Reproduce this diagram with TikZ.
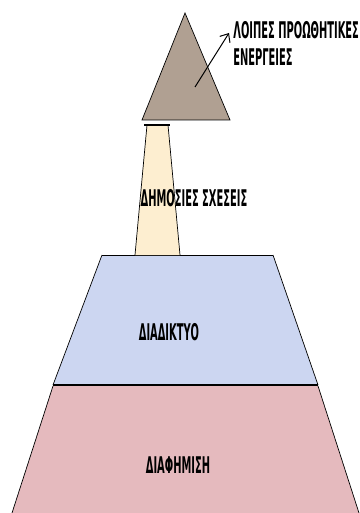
\documentclass[tikz,border=0pt]{standalone}
\usepackage{fontspec}
\newfontfamily\lblfont[FakeStretch=0.43]{DejaVu Sans}
\usetikzlibrary{arrows.meta}
\begin{document}
\begin{tikzpicture}[x=1pt,y=-1pt,line width=.7pt,font=\lblfont\bfseries\fontsize{23}{25}\selectfont]
\definecolor{stone}{RGB}{176,160,146}\definecolor{peach}{RGB}{253,238,208}
\definecolor{lilac}{RGB}{204,214,241}\definecolor{rose}{RGB}{229,186,190}
\tikzset{lbl/.style={inner sep=0pt}}
\useasboundingbox (0,0) rectangle (359,513);
% layers, bottom to top
\fill[rose] (53,386)--(318,386)--(359,513)--(12,513)--cycle;
\draw (53,386)--(12,513);\draw (318,386)--(359,513);
\fill[lilac] (102,255)--(273,255)--(318,385)--(53,385)--cycle;
\draw (102,255)--(53,385);\draw (273,255)--(318,385);\draw (102,255)--(273,255);
\draw[line width=2pt] (53,385)--(318,385);
\fill[peach] (147,125)--(168,125)--(180,255)--(135,255)--cycle;
\draw (147,125)--(135,255);\draw (168,125)--(180,255);\draw[line width=1.4pt] (144,125)--(170,125);
\fill[stone] (185,13)--(230,120)--(142,120)--cycle;
\draw (185,13)--(230,120)--(142,120)--cycle;
% labels
\coordinate (tail) at (195,87);\coordinate (head) at (229,33);
\draw[-{Straight Barb[length=7pt,width=12pt]},line width=1pt] (tail)--(head);
\node[lbl,anchor=west] (l1) at (233,30) {ΛΟΙΠΕΣ ΠΡΟΩΘΗΤΙΚΕΣ};
\node[lbl,anchor=west] (l2) at (233,57) {ΕΝΕΡΓΕΙΕΣ};
\node[lbl] (pr) at (194,198) {ΔΗΜΟΣΙΕΣ ΣΧΕΣΕΙΣ};
\node[lbl] (net) at (169,332) {ΔΙΑΔΙΚΤΥΟ};
\node[lbl] (adv) at (178,465) {ΔΙΑΦΗΜΙΣΗ};
\end{tikzpicture}
\end{document}
